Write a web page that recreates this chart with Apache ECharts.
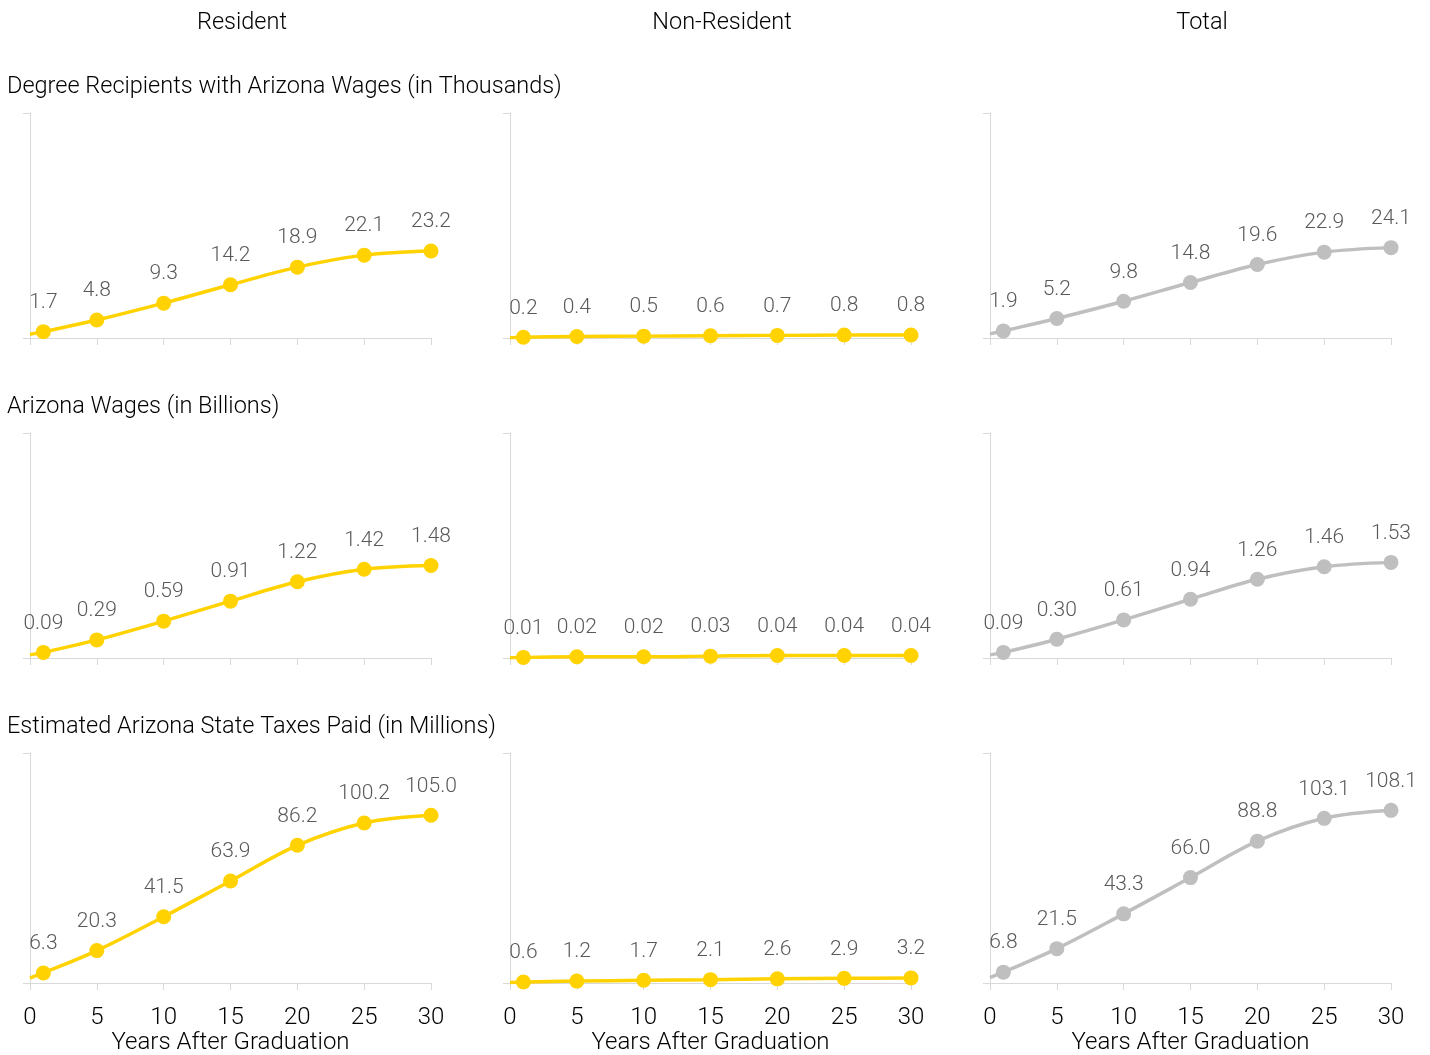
<!DOCTYPE html>
<html>
<head>
<meta charset="utf-8">
<title>Degree Recipients, Wages and Taxes</title>
<script src="https://cdn.jsdelivr.net/npm/echarts@6/dist/echarts.min.js"></script>
<style>
  html, body { margin: 0; padding: 0; background: #fff; }
  #chart { width: 1430px; height: 1055px; }
</style>
</head>
<body>
<div id="chart"></div>
<script>
// Years after graduation at which values are reported
const years = [1, 5, 10, 15, 20, 25, 30];

const columnTitles = ['Resident', 'Non-Resident', 'Total'];
const rowTitles = [
  'Degree Recipients with Arizona Wages (in Thousands)',
  'Arizona Wages (in Billions)',
  'Estimated Arizona State Taxes Paid (in Millions)'
];
const xTickLabel = 'Years After Graduation';

// Degree recipients with Arizona wages (thousands)
const residentRecipients = [1.7, 4.8, 9.3, 14.2, 18.9, 22.1, 23.2];
const nonResidentRecipients = [0.2, 0.4, 0.5, 0.6, 0.7, 0.8, 0.8];
const totalRecipients = [1.9, 5.2, 9.8, 14.8, 19.6, 22.9, 24.1];

// Arizona wages (billions)
const residentWages = [0.09, 0.29, 0.59, 0.91, 1.22, 1.42, 1.48];
const nonResidentWages = [0.01, 0.02, 0.02, 0.03, 0.04, 0.04, 0.04];
const totalWages = [0.09, 0.30, 0.61, 0.94, 1.26, 1.46, 1.53];

// Estimated Arizona state taxes paid (millions)
const residentTaxes = [6.3, 20.3, 41.5, 63.9, 86.2, 100.2, 105.0];
const nonResidentTaxes = [0.6, 1.2, 1.7, 2.1, 2.6, 2.9, 3.2];
const totalTaxes = [6.8, 21.5, 43.3, 66.0, 88.8, 103.1, 108.1];

// Value at graduation (year 0): the line starts here, unmarked
const recipientsAtStart = [1.0, 0.1, 1.1];
const wagesAtStart = [0.05, 0.005, 0.05];
const taxesAtStart = [3.1, 0.3, 3.4];

const rows = [
  { series: [residentRecipients, nonResidentRecipients, totalRecipients], start: recipientsAtStart, decimals: 1, yMax: 60 },
  { series: [residentWages, nonResidentWages, totalWages], start: wagesAtStart, decimals: 2, yMax: 3.6 },
  { series: [residentTaxes, nonResidentTaxes, totalTaxes], start: taxesAtStart, decimals: 1, yMax: 144 }
];

const GOLD = '#FFD200';
const GREY = '#BFBFBF';
const AXIS = '#D9D9D9';
const FONT = 'Roboto, "Open Sans", sans-serif';

const colLefts = [30, 510, 990];
const plotWidth = 401;
const rowTops = [113, 433, 753];
const rowHeights = [225, 225, 230];
const headerX = [242, 722, 1202];
const rowTitleY = [75, 395, 715];

const grids = [], xAxes = [], yAxes = [], series = [], titles = [];

columnTitles.forEach((t, c) => {
  titles.push({
    text: t, left: headerX[c], top: 11, textAlign: 'center', padding: 0,
    textStyle: { fontFamily: FONT, fontSize: 23.5, fontWeight: 300, color: '#000' }
  });
});
rowTitles.forEach((t, r) => {
  titles.push({
    text: t, left: 7, top: rowTitleY[r], padding: 0,
    textStyle: { fontFamily: FONT, fontSize: 23.5, fontWeight: 300, color: '#000' }
  });
});

rows.forEach((row, r) => {
  row.series.forEach((vals, c) => {
    const idx = grids.length;
    const bottomRow = r === rows.length - 1;
    grids.push({
      left: colLefts[c], top: rowTops[r], width: plotWidth, height: rowHeights[r],
      containLabel: false, outerBoundsMode: 'none'
    });
    xAxes.push({
      gridIndex: idx, type: 'value', min: 0, max: 30, interval: 5,
      axisLine: { show: true, lineStyle: { color: AXIS, width: 1 } },
      axisTick: { show: true, length: 7, lineStyle: { color: AXIS } },
      splitLine: { show: false },
      axisLabel: {
        show: bottomRow, margin: 23, fontFamily: FONT, fontSize: 24, fontWeight: 300, color: '#000'
      },
      name: bottomRow ? xTickLabel : '',
      nameLocation: 'middle', nameGap: 48,
      nameTextStyle: { fontFamily: FONT, fontSize: 24, fontWeight: 300, color: '#000' }
    });
    yAxes.push({
      gridIndex: idx, type: 'value', min: 0, max: row.yMax, interval: row.yMax,
      axisLine: { show: true, lineStyle: { color: AXIS, width: 1 } },
      axisTick: { show: true, length: 7, lineStyle: { color: AXIS } },
      splitLine: { show: false },
      axisLabel: { show: false }
    });
    const color = c === 2 ? GREY : GOLD;
    const data = [{ value: [0, row.start[c]], symbol: 'none', label: { show: false } }]
      .concat(vals.map((v, i) => [years[i], v]));
    series.push({
      type: 'line', xAxisIndex: idx, yAxisIndex: idx,
      data: data, smooth: 0.35,
      symbol: 'circle', symbolSize: 15,
      lineStyle: { color: color, width: 3.5 },
      itemStyle: { color: color },
      label: {
        show: true, position: 'top', distance: 11,
        fontFamily: FONT, fontSize: 21, fontWeight: 300, color: '#595959',
        formatter: p => p.value[1].toFixed(row.decimals)
      },
      emphasis: { disabled: true },
      animation: false
    });
  });
});

const chart = echarts.init(document.getElementById('chart'), null, { renderer: 'canvas' });
chart.setOption({
  backgroundColor: '#fff',
  animation: false,
  title: titles,
  grid: grids,
  xAxis: xAxes,
  yAxis: yAxes,
  series: series
});
</script>
</body>
</html>
